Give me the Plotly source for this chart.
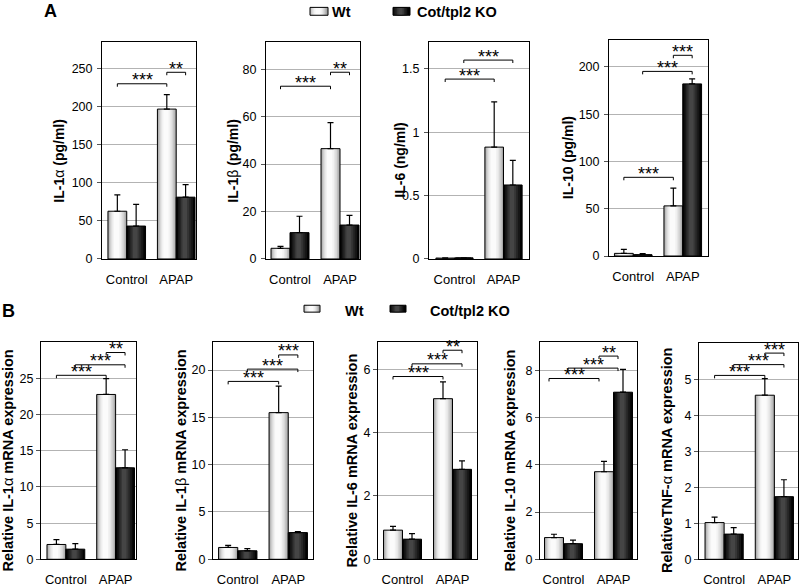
import plotly.graph_objects as go

W, H = 800, 587
categories = ["Control", "APAP"]
series_names = ["Wt", "Cot/tpl2 KO"]

# ---------------- Panel A: serum cytokines ----------------
A_IL1a_wt = [62.8, 197.2]
A_IL1a_wt_err = [21.5, 19.0]
A_IL1a_ko = [43.3, 81.3]
A_IL1a_ko_err = [28.6, 16.5]

A_IL1b_wt = [4.5, 46.5]
A_IL1b_wt_err = [0.8, 11.0]
A_IL1b_ko = [11.1, 14.3]
A_IL1b_ko_err = [6.9, 4.1]

A_IL6_wt = [0.006, 0.883]
A_IL6_wt_err = [0.002, 0.357]
A_IL6_ko = [0.006, 0.584]
A_IL6_ko_err = [0.002, 0.194]

A_IL10_wt = [2.8, 53.0]
A_IL10_wt_err = [4.2, 18.8]
A_IL10_ko = [1.2, 182.0]
A_IL10_ko_err = [1.3, 5.2]

# ---------------- Panel B: relative mRNA expression ----------------
B_IL1a_wt = [2.05, 22.8]
B_IL1a_wt_err = [0.68, 2.2]
B_IL1a_ko = [1.4, 12.65]
B_IL1a_ko_err = [0.78, 2.5]

B_IL1b_wt = [1.25, 15.5]
B_IL1b_wt_err = [0.22, 2.8]
B_IL1b_ko = [0.9, 2.82]
B_IL1b_ko_err = [0.23, 0.12]

B_IL6_wt = [0.92, 5.07]
B_IL6_wt_err = [0.12, 0.53]
B_IL6_ko = [0.635, 2.84]
B_IL6_ko_err = [0.175, 0.27]

B_IL10_wt = [0.92, 3.71]
B_IL10_wt_err = [0.14, 0.44]
B_IL10_ko = [0.66, 7.08]
B_IL10_ko_err = [0.15, 0.97]

B_TNF_wt = [1.02, 4.56]
B_TNF_wt_err = [0.15, 0.46]
B_TNF_ko = [0.70, 1.74]
B_TNF_ko_err = [0.18, 0.47]

# significance brackets: (bar a, bar b, level, label)
# bar index: 0 Control-Wt, 1 Control-KO, 2 APAP-Wt, 3 APAP-KO
A_IL1a_sig = [(0, 2, 230.5, "***"), (2, 3, 245.6, "**")]
A_IL1b_sig = [(0, 2, 72.8, "***"), (2, 3, 78.7, "**")]
A_IL6_sig = [(0, 2, 1.42, "***"), (1, 3, 1.57, "***")]
A_IL10_sig = [(0, 2, 83.2, "***"), (1, 3, 195.2, "***"), (2, 3, 212.2, "***")]
B_IL1a_sig = [(0, 2, 25.45, "***"), (1, 3, 26.9, "***"), (2, 3, 28.6, "**")]
B_IL1b_sig = [(0, 2, 18.8, "***"), (1, 3, 20.1, "***"), (2, 3, 21.6, "***")]
B_IL6_sig = [(0, 2, 5.77, "***"), (1, 3, 6.17, "***"), (2, 3, 6.6, "**")]
B_IL10_sig = [(0, 2, 7.66, "***"), (1, 3, 8.1, "***"), (2, 3, 8.61, "**")]
B_TNF_sig = [(0, 2, 5.11, "***"), (1, 3, 5.41, "***"), (2, 3, 5.73, "***")]

GR = '<span style="font-weight:normal">%s</span>'

panels = [
    dict(title="IL-1" + GR % "α" + " (pg/ml)", wt=A_IL1a_wt, wte=A_IL1a_wt_err, ko=A_IL1a_ko, koe=A_IL1a_ko_err,
         sig=A_IL1a_sig, box=(102, 196, 43, 263), xr=[-0.5, 1.4], yr=[0, 285],
         tv=[0, 50, 100, 150, 200, 250], tt=None, tdx=43, tfs=14, bshift=0, tso=2),
    dict(title="IL-1" + GR % "β" + " (pg/ml)", wt=A_IL1b_wt, wte=A_IL1b_wt_err, ko=A_IL1b_ko, koe=A_IL1b_ko_err,
         sig=A_IL1b_sig, box=(266, 360, 43, 263), xr=[-0.48, 1.4], yr=[0, 91.3],
         tv=[0, 20, 40, 60, 80], tt=None, tdx=33, tfs=14, bshift=0, tso=2),
    dict(title="IL-6 (ng/ml)", wt=A_IL6_wt, wte=A_IL6_wt_err, ko=A_IL6_ko, koe=A_IL6_ko_err,
         sig=A_IL6_sig, box=(429, 529, 43, 263), xr=[-0.52, 1.52], yr=[0, 1.71],
         tv=[0, 0.5, 1, 1.5], tt=["0", "0.5", "1", "1.5"], tdx=29, tfs=14, bshift=0, tso=2),
    dict(title="IL-10 (pg/ml)", wt=A_IL10_wt, wte=A_IL10_wt_err, ko=A_IL10_ko, koe=A_IL10_ko_err,
         sig=A_IL10_sig, box=(609, 708, 41, 260), xr=[-0.49, 1.51], yr=[0, 228],
         tv=[0, 50, 100, 150, 200], tt=None, tdx=41, tfs=14, bshift=0, tso=2),
    dict(title="Relative IL-1" + GR % "α" + " mRNA expression", wt=B_IL1a_wt, wte=B_IL1a_wt_err, ko=B_IL1a_ko,
         koe=B_IL1a_ko_err, sig=B_IL1a_sig, box=(41, 136, 347, 568), xr=[-0.5, 1.41], yr=[0, 30.1],
         tv=[0, 5, 10, 15, 20, 25], tt=None, tdx=33, tfs=14.5, bshift=0, tso=0),
    dict(title="Relative IL-1" + GR % "β" + " mRNA expression", wt=B_IL1b_wt, wte=B_IL1b_wt_err, ko=B_IL1b_ko,
         koe=B_IL1b_ko_err, sig=B_IL1b_sig, box=(213, 313, 347, 568), xr=[-0.49, 1.49], yr=[0, 23.0],
         tv=[0, 5, 10, 15, 20], tt=None, tdx=32, tfs=14.5, bshift=0, tso=0),
    dict(title="Relative IL-6 mRNA expression", wt=B_IL6_wt, wte=B_IL6_wt_err, ko=B_IL6_ko, koe=B_IL6_ko_err,
         sig=B_IL6_sig, box=(378, 477, 347, 568), xr=[-0.49, 1.49], yr=[0, 6.87],
         tv=[0, 2, 4, 6], tt=None, tdx=26, tfs=14.5, bshift=0, tso=0),
    dict(title="Relative IL-10 mRNA expression", wt=B_IL10_wt, wte=B_IL10_wt_err, ko=B_IL10_ko, koe=B_IL10_ko_err,
         sig=B_IL10_sig, box=(540, 637, 347, 568), xr=[-0.47, 1.47], yr=[0, 9.22],
         tv=[0, 2, 4, 6, 8], tt=None, tdx=30, tfs=14.5, bshift=-0.1, tso=0),
    dict(title="RelativeTNF-" + GR % "α" + " mRNA expression", wt=B_TNF_wt, wte=B_TNF_wt_err, ko=B_TNF_ko,
         koe=B_TNF_ko_err, sig=B_TNF_sig, box=(699, 798, 348, 568), xr=[-0.5, 1.47], yr=[0, 6.02],
         tv=[0, 1, 2, 3, 4, 5], tt=None, tdx=32, tfs=14.5, bshift=0, tso=0),
]

FONT = "Liberation Sans, Arial, sans-serif"
BW = 0.38  # bar width in category units
WT_LAYERS = [(1.0, "#a6a6a6"), (0.86, "#c0c0c0"), (0.72, "#d6d6d6"), (0.58, "#e6e6e6"),
             (0.44, "#f2f2f2"), (0.28, "#fbfbfb")]
KO_LAYERS = [(1.0, "#030303"), (0.8, "#161616"), (0.6, "#262626"), (0.42, "#363636"), (0.24, "#454545")]

fig = go.Figure()
layout = dict(width=W, height=H, margin=dict(l=0, r=0, t=0, b=0), paper_bgcolor="white",
              plot_bgcolor="white", showlegend=False, barmode="overlay",
              font=dict(family=FONT, color="black"))
annotations = []
shapes = []

for k, p in enumerate(panels, start=1):
    xa = "x" if k == 1 else f"x{k}"
    ya = "y" if k == 1 else f"y{k}"
    x0, x1, y0, y1 = p["box"]
    layout["xaxis" if k == 1 else f"xaxis{k}"] = dict(
        domain=[x0 / W, x1 / W], range=p["xr"], anchor=ya, type="linear",
        tickmode="array", tickvals=[0, 1], ticktext=categories, showgrid=False, zeroline=False,
        showline=True, linecolor="black", linewidth=1, mirror=True, ticks="",
        tickfont=dict(size=13, family=FONT, color="black"), ticklabelstandoff=8, fixedrange=True)
    yax = dict(
        domain=[1 - y1 / H, 1 - y0 / H], range=p["yr"], anchor=xa, tickmode="array", tickvals=p["tv"],
        showgrid=True, gridcolor="#b3b3b3", gridwidth=1, zeroline=False, showline=True,
        linecolor="black", linewidth=1, mirror=True, ticks="outside", ticklen=4, tickcolor="#555555",
        tickwidth=1, tickfont=dict(size=12.5, family=FONT, color="black"), fixedrange=True,
        ticklabelstandoff=p["tso"])
    if p["tt"]:
        yax["ticktext"] = p["tt"]
    layout["yaxis" if k == 1 else f"yaxis{k}"] = yax

    centers = []
    for vals, errs, layers, off in [(p["wt"], p["wte"], WT_LAYERS, -BW / 2),
                                    (p["ko"], p["koe"], KO_LAYERS, BW / 2)]:
        xs = [i + off for i in range(len(categories))]
        centers.append(xs)
        for frac, col in layers:
            fig.add_trace(go.Bar(x=[x - 0.06 * BW * (1 - frac) for x in xs], y=vals, width=BW * frac,
                                 marker=dict(color=col, line=dict(width=0)),
                                 xaxis=xa, yaxis=ya, hoverinfo="skip"))
        fig.add_trace(go.Bar(x=xs, y=vals, width=BW,
                             marker=dict(color="rgba(0,0,0,0)", line=dict(color="black", width=1)),
                             error_y=dict(type="data", symmetric=False, array=errs,
                                          arrayminus=[0] * len(errs), color="black",
                                          thickness=1.2, width=3),
                             xaxis=xa, yaxis=ya))
    bar_pos = [centers[0][0], centers[1][0], centers[0][1], centers[1][1]]
    d = 3 * (p["yr"][1] - p["yr"][0]) / (y1 - y0)
    for a, b, lev, lab in p["sig"]:
        xa_ = bar_pos[a] + p["bshift"]
        xb_ = bar_pos[b] + p["bshift"]
        fig.add_trace(go.Scatter(x=[xa_, xa_, xb_, xb_], y=[lev - d, lev, lev, lev - d], mode="lines",
                                 line=dict(color="black", width=1), xaxis=xa, yaxis=ya,
                                 hoverinfo="skip"))
        annotations.append(dict(x=(xa_ + xb_) / 2, y=lev, xref=xa, yref=ya, text=lab, showarrow=False,
                                xanchor="center", yanchor="middle", yshift=3.5,
                                font=dict(size=18, family=FONT, color="black")))
    annotations.append(dict(x=0, y=0.5, xref=f"{xa} domain", yref=f"{ya} domain", text="<b>%s</b>" % p["title"],
                            textangle=-90, showarrow=False, xanchor="center", yanchor="middle",
                            xshift=-p["tdx"], yshift=-10,
                            font=dict(size=p["tfs"], family=FONT, color="black")))


def px(x):
    return x / W


def py(y):
    return 1 - y / H


# panel letters
for lab, x, y in [("A", 50, 11), ("B", 8, 316)]:
    annotations.append(dict(x=px(x), y=py(y), xref="paper", yref="paper", text="<b>%s</b>" % lab,
                            showarrow=False, xanchor="center", yanchor="middle",
                            font=dict(size=18, family=FONT, color="black")))


# legends (swatches + text)
def swatch(xl, xr, yt, yb, layers):
    w = xr - xl
    cx = (xl + xr) / 2 - 0.06 * w
    for frac, col in layers:
        hw = w * frac / 2
        shapes.append(dict(type="rect", xref="paper", yref="paper", x0=px(cx - hw if frac < 1 else xl),
                           x1=px(cx + hw if frac < 1 else xr), y0=py(yb), y1=py(yt),
                           fillcolor=col, line=dict(width=0)))
    shapes.append(dict(type="rect", xref="paper", yref="paper", x0=px(xl), x1=px(xr), y0=py(yb), y1=py(yt),
                       fillcolor="rgba(0,0,0,0)", line=dict(color="black", width=1)))


for (wx0, wx1, wtx, kx0, kx1, ktx, yt, yb, ty) in [(310, 328, 330, 393, 410, 415, 7.5, 15.5, 12),
                                                     (304, 320, 343, 390, 406, 428, 310, 317, 316)]:
    swatch(wx0, wx1, yt, yb, WT_LAYERS)
    swatch(kx0, kx1, yt, yb, KO_LAYERS)
    annotations.append(dict(x=px(wtx), y=py(ty), xref="paper", yref="paper", text="<b>%s</b>" % series_names[0],
                            showarrow=False, xanchor="left", yanchor="middle",
                            font=dict(size=14.5, family=FONT, color="black")))
    annotations.append(dict(x=px(ktx), y=py(ty), xref="paper", yref="paper", text="<b>%s</b>" % series_names[1],
                            showarrow=False, xanchor="left", yanchor="middle",
                            font=dict(size=14.5, family=FONT, color="black")))

layout["annotations"] = annotations
layout["shapes"] = shapes
fig.update_layout(**layout)
fig.write_html("out.html", config={"displayModeBar": False},
               post_script="document.body.style.margin='0';document.body.style.overflow='hidden';")
